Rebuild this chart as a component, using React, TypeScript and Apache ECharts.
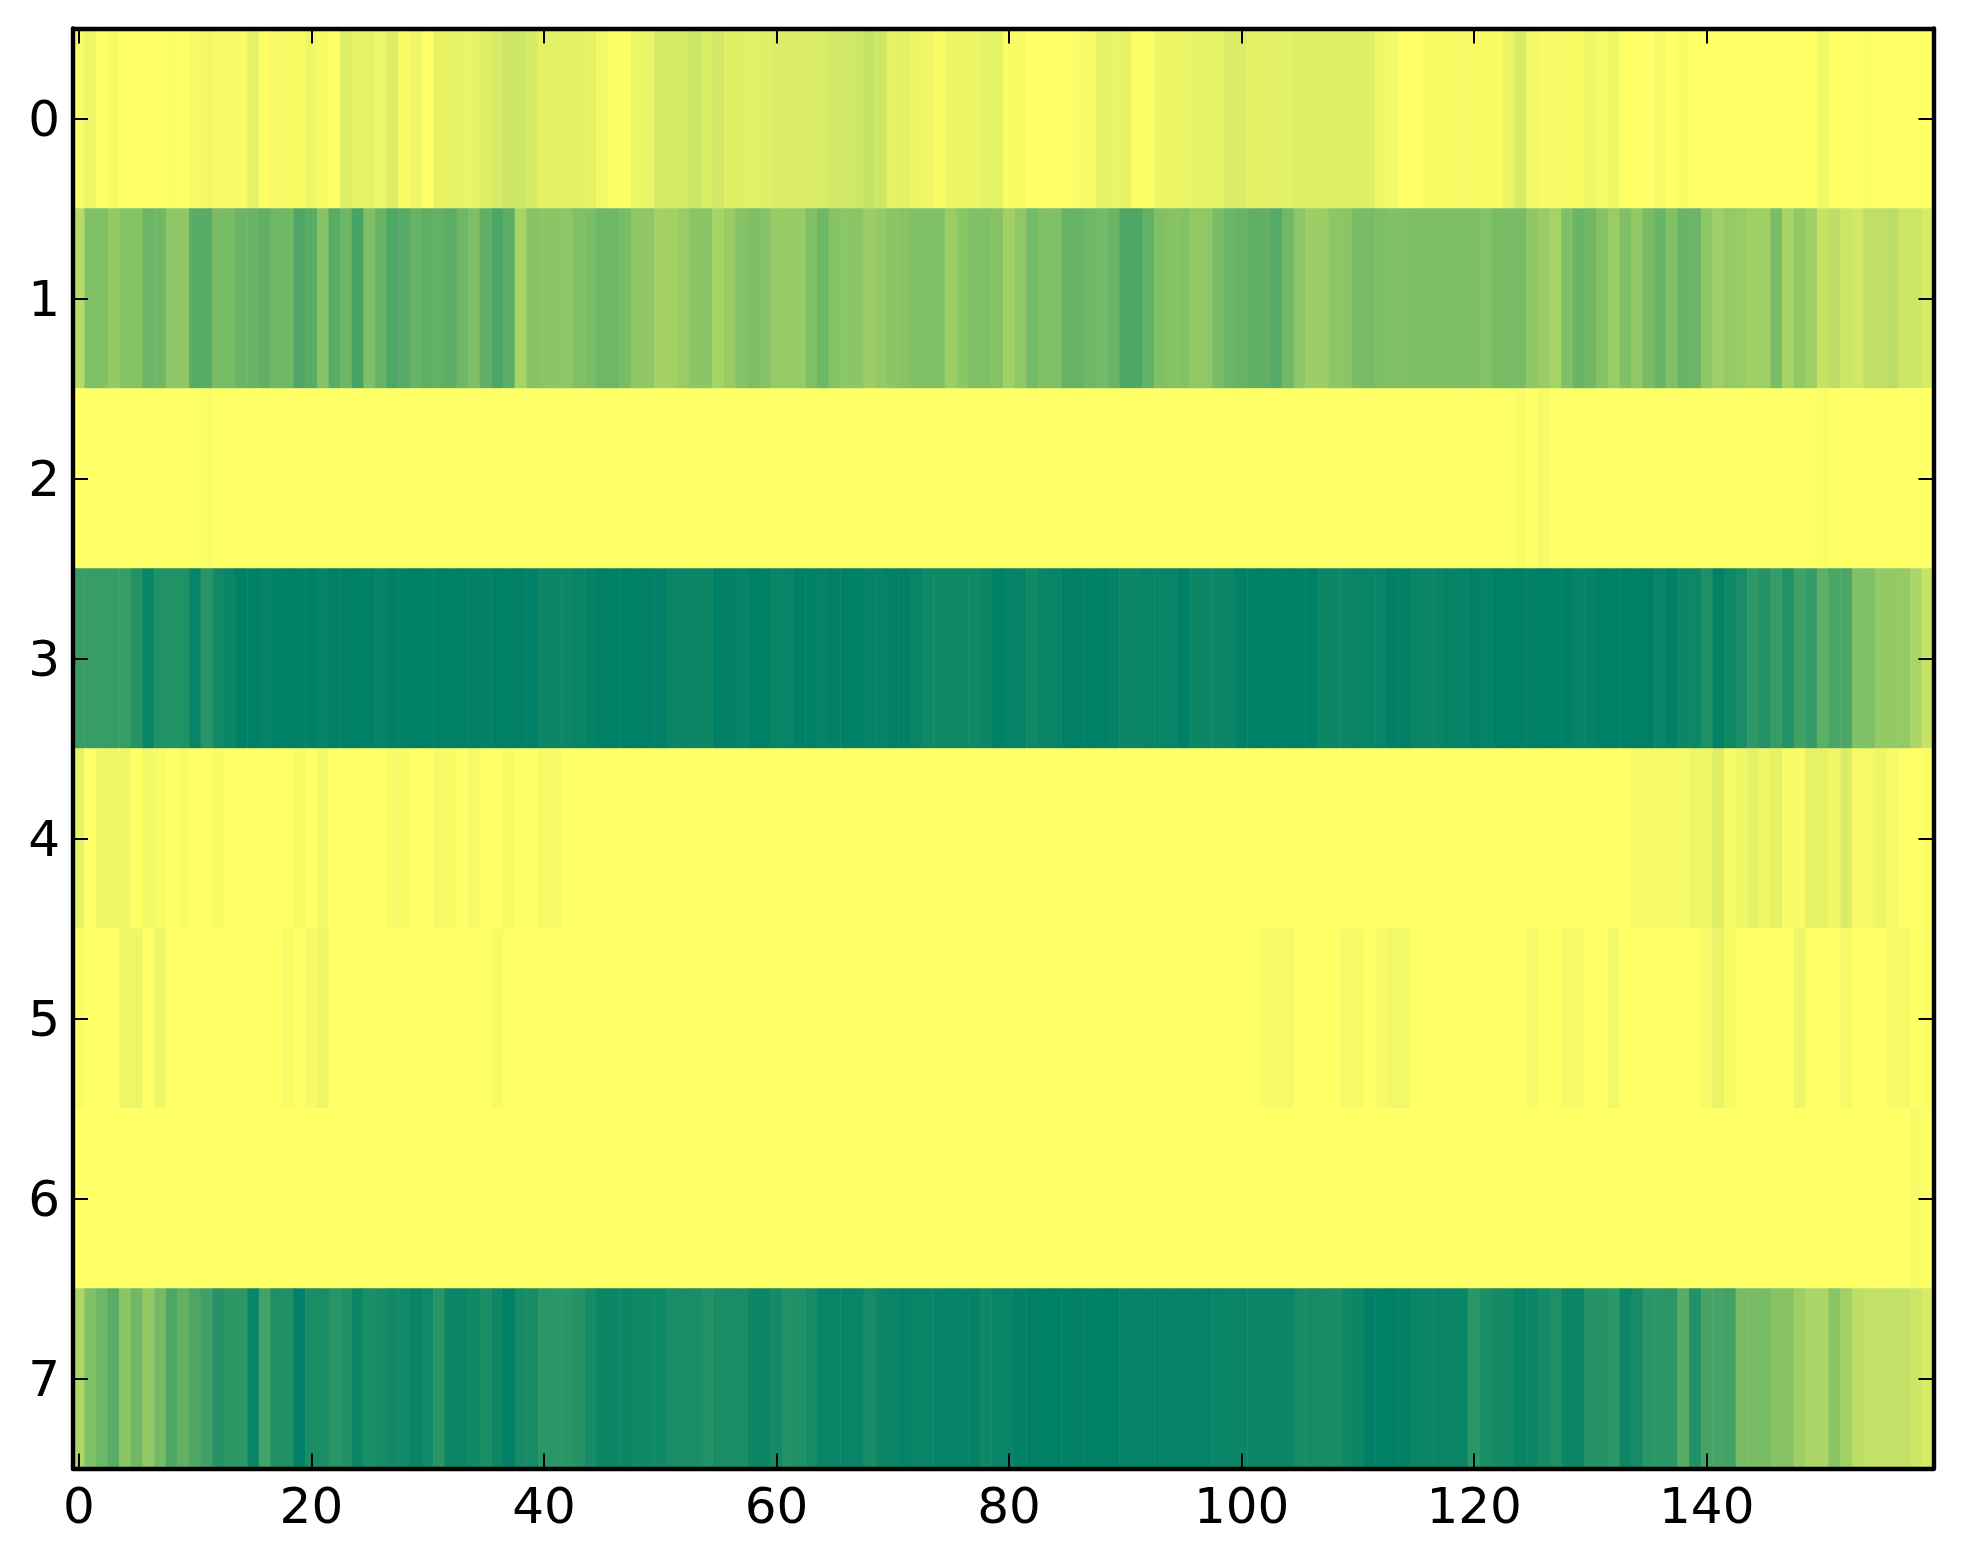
import React, { useEffect, useRef } from "react";
import * as echarts from "echarts";

const rowLabels = ["0", "1", "2", "3", "4", "5", "6", "7"];
const columnCount = 160;

const row0 = [
  .97,.93,1,.97,1,1,1,1,.99,1,
  .97,.95,.97,.97,.97,.90,.99,.96,.98,.98,
  .94,.97,1,.87,.90,.90,.93,.87,.98,.94,
  1,.91,.91,.91,.91,.88,.84,.81,.81,.84,
  .89,.89,.89,.89,.90,.95,.99,.99,.93,.92,
  .83,.84,.83,.80,.85,.82,.88,.88,.89,.88,
  .86,.86,.86,.85,.85,.82,.82,.81,.77,.81,
  .90,.89,.92,.94,.98,.92,.92,.92,.91,.90,
  .98,.98,1,1,1,1,.98,.96,.91,.91,
  .91,.99,.99,.93,.92,.92,.91,.91,.90,.86,
  .86,.89,.89,.89,.89,.87,.87,.87,.87,.87,
  .87,.88,.94,.95,1,1,.98,.98,.98,.98,
  .98,.98,.98,.92,.85,.95,.97,.97,.98,.98,
  .94,.97,.94,1,1,1,.97,1,.98,1,
  1,1,1,1,1,1,1,1,1,1,
  .95,1,1,1,.99,1,1,1,1,1,
];
const row1 = [
  .72,.50,.50,.58,.52,.52,.42,.44,.56,.56,
  .35,.35,.48,.47,.41,.41,.38,.44,.44,.30,
  .35,.53,.35,.43,.28,.50,.40,.31,.34,.40,
  .37,.38,.36,.43,.49,.38,.30,.36,.66,.53,
  .54,.54,.55,.50,.48,.43,.43,.47,.56,.56,
  .64,.64,.60,.54,.54,.66,.60,.53,.49,.52,
  .59,.59,.59,.50,.43,.52,.54,.54,.61,.58,
  .54,.53,.50,.50,.50,.61,.54,.50,.50,.53,
  .63,.57,.46,.50,.50,.40,.40,.43,.46,.41,
  .31,.31,.39,.50,.53,.51,.57,.57,.48,.42,
  .40,.38,.38,.33,.44,.55,.61,.61,.55,.54,
  .48,.47,.49,.50,.50,.49,.49,.49,.49,.49,
  .49,.52,.47,.47,.47,.56,.60,.65,.50,.41,
  .44,.52,.60,.50,.57,.47,.41,.50,.41,.41,
  .55,.62,.58,.60,.62,.62,.47,.65,.57,.62,
  .78,.74,.80,.82,.75,.75,.73,.80,.80,.84,
];
const row2 = [
  1,1,1,1,1,1,1,1,1,1,
  1,.98,1,1,1,1,1,1,1,1,
  1,1,1,1,1,1,1,1,1,1,
  1,1,1,1,1,1,1,1,1,1,
  1,1,1,1,1,1,1,1,1,1,
  1,1,1,1,1,1,1,1,1,1,
  1,1,1,1,1,1,1,1,1,1,
  1,1,1,1,1,1,1,1,1,1,
  1,1,1,1,1,1,1,1,1,1,
  1,1,1,1,1,1,1,1,1,1,
  1,1,1,1,1,1,1,1,1,1,
  1,1,1,1,1,1,1,1,1,1,
  1,1,1,1,.98,1,.97,1,1,1,
  1,1,1,1,1,1,1,1,1,1,
  1,1,1,1,1,1,1,1,1,1,
  .98,1,1,1,1,1,1,1,1,1,
];
const row3 = [
  .22,.22,.22,.22,.22,.14,.04,.13,.13,.13,
  .03,.16,.07,.04,0,0,.02,0,0,0,
  0,.02,0,0,0,0,.02,0,0,0,
  0,0,0,0,0,.015,0,0,0,0,
  .05,.05,.05,.03,.02,0,0,0,0,0,
  0,.04,.04,.05,.05,0,.01,.02,0,0,
  .03,.03,0,0,.02,.01,.01,0,.02,.02,
  0,.01,.03,.06,.06,.06,.06,.06,.05,0,
  .02,.02,.07,.04,.03,0,0,0,0,.02,
  .05,.05,.03,.03,.03,0,.05,.05,.05,.04,
  0,0,0,0,0,0,0,.05,.05,.05,
  .03,.03,.03,0,0,.04,.04,.04,.02,.02,
  0,.02,0,0,0,0,0,0,0,.02,
  .02,0,0,0,0,0,.03,0,.05,.05,
  .12,.01,.06,.10,.18,.14,.22,.13,.25,.21,
  .37,.29,.29,.50,.50,.58,.58,.58,.67,.78,
];
const row4 = [
  .90,1,.94,.94,.94,1,.95,.97,1,.98,
  1,1,.98,1,1,1,1,1,1,.97,
  1,.95,1,1,1,1,1,.97,.97,1,
  1,.97,.97,1,.96,1,1,.97,1,1,
  .97,.97,1,1,1,1,1,1,1,1,
  1,1,1,1,1,1,1,1,1,1,
  1,1,1,1,1,1,1,1,1,1,
  1,1,1,1,1,1,1,1,1,1,
  1,1,1,1,1,1,1,1,1,1,
  1,1,1,1,1,1,1,1,1,1,
  1,1,1,1,1,1,1,1,1,1,
  1,1,1,1,1,1,1,1,1,1,
  1,1,1,1,1,1,1,1,1,1,
  1,1,1,1,.96,.96,.96,.96,.96,.93,
  .93,.87,.97,.94,.90,.94,.90,.98,.98,.90,
  .90,.94,.86,.96,.96,.93,.96,1,1,.98,
];
const row5 = [
  .98,1,1,1,.93,.93,1,.94,1,1,
  1,1,1,1,1,1,1,1,.97,1,
  .97,.93,1,1,1,1,1,1,1,1,
  1,1,1,1,1,1,.97,1,1,1,
  1,1,1,1,1,1,1,1,1,1,
  1,1,1,1,1,1,1,1,1,1,
  1,1,1,1,1,1,1,1,1,1,
  1,1,1,1,1,1,1,1,1,1,
  1,1,1,1,1,1,1,1,1,1,
  1,1,1,1,1,1,1,1,1,1,
  1,1,.98,.96,.96,1,1,1,1,.96,
  .96,1,.97,.95,.95,1,1,1,1,1,
  1,1,1,1,1,.96,1,1,.96,.96,
  1,1,.95,1,1,1,1,1,1,1,
  .96,.91,.97,1,1,1,1,1,.93,1,
  1,1,.96,1,1,1,.96,.96,1,.98,
];
const row6 = [
  1,1,1,1,1,1,1,1,1,1,
  1,1,1,1,1,1,1,1,1,1,
  1,1,1,1,1,1,1,1,1,1,
  1,1,1,1,1,1,1,1,1,1,
  1,1,1,1,1,1,1,1,1,1,
  1,1,1,1,1,1,1,1,1,1,
  1,1,1,1,1,1,1,1,1,1,
  1,1,1,1,1,1,1,1,1,1,
  1,1,1,1,1,1,1,1,1,1,
  1,1,1,1,1,1,1,1,1,1,
  1,1,1,1,1,1,1,1,1,1,
  1,1,1,1,1,1,1,1,1,1,
  1,1,1,1,1,1,1,1,1,1,
  1,1,1,1,1,1,1,1,1,1,
  1,1,1,1,1,1,1,1,1,1,
  1,1,1,1,1,1,1,1,.97,.99,
];
const row7 = [
  .68,.50,.43,.35,.54,.44,.58,.46,.31,.38,
  .31,.25,.15,.18,.18,.04,.27,.12,.12,0,
  .10,.10,.16,.13,.05,.11,.09,.07,.07,.03,
  .07,.16,.04,.04,.06,.11,.05,0,.09,.09,
  .17,.17,.17,.15,.09,.05,.05,.05,.06,.06,
  .06,.10,.10,.10,.13,.10,.10,.10,.05,.05,
  .08,.13,.12,.09,.03,.03,.03,.03,.09,.05,
  .03,.02,.03,.03,.02,.02,.02,.02,.06,.03,
  .03,.01,0,0,0,0,0,0,0,0,
  .02,.02,.02,.02,.02,.02,.02,.02,.03,.04,
  .04,.04,.04,.04,.04,.09,.09,.09,.10,.06,
  .05,0,0,0,.01,.04,.04,.04,.04,.04,
  .17,.11,.08,.08,.03,.05,.08,.12,.05,.05,
  .14,.15,.17,.05,.09,.17,.17,.17,.35,.13,
  .28,.28,.26,.47,.47,.47,.53,.53,.62,.67,
  .67,.54,.63,.74,.76,.76,.76,.76,.80,.84,
];
const rows = [row0, row1, row2, row3, row4, row5, row6, row7];

const columns = Array.from({ length: columnCount }, (_, i) => String(i));
const cells: number[][] = [];
rows.forEach((r, y) => r.forEach((v, x) => cells.push([x, y, v])));

const FONT = "'DejaVu Sans'";
const line = { show: true, onZero: false, lineStyle: { color: "#000", width: 4.4 } };

export default function App() {
  const ref = useRef<HTMLDivElement>(null);
  useEffect(() => {
    const chart = echarts.init(ref.current!, undefined, { renderer: "svg" });
    const xBase = {
      type: "category" as const,
      data: columns,
      z: 5,
      axisLine: line,
      splitLine: { show: false },
      axisTick: {
        show: true,
        inside: true,
        length: 15,
        alignWithLabel: true,
        interval: (i: number) => i % 20 === 0,
        lineStyle: { color: "#000", width: 2 },
      },
    };
    const yBase = {
      type: "category" as const,
      data: rowLabels,
      inverse: true,
      z: 5,
      axisLine: line,
      splitLine: { show: false },
      axisTick: {
        show: true,
        inside: true,
        length: 15,
        alignWithLabel: true,
        lineStyle: { color: "#000", width: 2 },
      },
    };
    chart.setOption({
      animation: false,
      backgroundColor: "#fff",
      grid: { left: 73, top: 28.5, width: 1860.5, height: 1440, containLabel: false },
      xAxis: [
        {
          ...xBase,
          position: "bottom",
          axisLabel: {
            show: true,
            interval: (i: number) => i % 20 === 0,
            color: "#000",
            fontFamily: FONT,
            fontSize: 50,
            margin: 12,
          },
        },
        { ...xBase, position: "top", axisLabel: { show: false } },
      ],
      yAxis: [
        {
          ...yBase,
          position: "left",
          axisLabel: {
            show: true,
            color: "#000",
            fontFamily: FONT,
            fontSize: 50,
            margin: 13,
            padding: [0, 0, 3, 0],
          },
        },
        { ...yBase, position: "right", axisLabel: { show: false } },
      ],
      visualMap: {
        show: false,
        min: 0,
        max: 1,
        dimension: 2,
        seriesIndex: 0,
        inRange: { color: ["#008066", "#ffff66"] },
      },
      series: [
        {
          type: "heatmap",
          data: cells,
          xAxisIndex: 0,
          yAxisIndex: 0,
          progressive: 0,
          silent: true,
          itemStyle: { borderWidth: 0 },
        },
      ],
    });
    return () => chart.dispose();
  }, []);
  return (
    <div
      ref={ref}
      style={{ position: "absolute", left: 0, top: 0, width: 1963, height: 1564 }}
    />
  );
}
